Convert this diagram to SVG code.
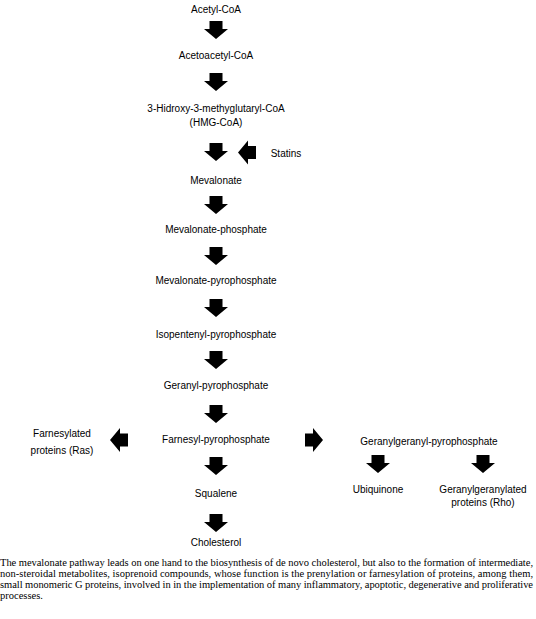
<svg xmlns="http://www.w3.org/2000/svg" width="536" height="619" viewBox="0 0 536 619">
<style>
.n{font-family:"Liberation Sans",Arial,sans-serif;font-size:10px;fill:#000;text-anchor:middle}
.cap{font-family:"Liberation Serif","Times New Roman",serif;font-size:10.5px;fill:#000}
.a{fill:#000}
</style>
<defs>
<path id="arr" d="M-6.5,0 H6.5 V8 H12 L0,18 L-12,8 H-6.5 Z"/>
</defs>
<rect width="536" height="619" fill="#fff"/>
<g id="connectors" class="a">
<use href="#arr" x="216" y="21"/>
<use href="#arr" x="216" y="73"/>
<use href="#arr" x="216" y="143"/>
<use href="#arr" x="216" y="196"/>
<use href="#arr" x="216" y="247"/>
<use href="#arr" x="216" y="299"/>
<use href="#arr" x="216" y="351"/>
<use href="#arr" x="216" y="405"/>
<use href="#arr" x="216" y="457"/>
<use href="#arr" x="216" y="514"/>
<use href="#arr" transform="translate(256,152.5) rotate(90)"/>
<use href="#arr" transform="translate(128,440) rotate(90)"/>
<use href="#arr" transform="translate(305,440) rotate(-90)"/>
<use href="#arr" x="378" y="455"/>
<use href="#arr" x="483" y="455"/>
</g>
<g id="acetylcoa"><text class="n" x="216" y="13">Acetyl-CoA</text></g>
<g id="acetoacetylcoa"><text class="n" x="216" y="59">Acetoacetyl-CoA</text></g>
<g id="hmgcoa"><text class="n" x="216" y="112">3-Hidroxy-3-methyglutaryl-CoA</text><text class="n" x="216" y="126">(HMG-CoA)</text></g>
<g id="statins"><text class="n" x="286" y="157">Statins</text></g>
<g id="mevalonate"><text class="n" x="216" y="184">Mevalonate</text></g>
<g id="mevalonatephosphate"><text class="n" x="216" y="233">Mevalonate-phosphate</text></g>
<g id="mevalonatepyrophosphate"><text class="n" x="216" y="284">Mevalonate-pyrophosphate</text></g>
<g id="isopentenyl"><text class="n" x="216" y="338">Isopentenyl-pyrophosphate</text></g>
<g id="geranyl"><text class="n" x="216" y="389">Geranyl-pyrophosphate</text></g>
<g id="farnesyl"><text class="n" x="216" y="443">Farnesyl-pyrophosphate</text></g>
<g id="farnesylated"><text class="n" x="62" y="437">Farnesylated</text><text class="n" x="62" y="454">proteins (Ras)</text></g>
<g id="geranylgeranyl"><text class="n" x="429" y="445">Geranylgeranyl-pyrophosphate</text></g>
<g id="ubiquinone"><text class="n" x="378" y="493">Ubiquinone</text></g>
<g id="geranylgeranylated"><text class="n" x="483" y="493">Geranylgeranylated</text><text class="n" x="483" y="506">proteins (Rho)</text></g>
<g id="squalene"><text class="n" x="216" y="497">Squalene</text></g>
<g id="cholesterol"><text class="n" x="216" y="546">Cholesterol</text></g>
<g id="caption">
<text class="cap" x="0" y="566" textLength="533" lengthAdjust="spacing">The mevalonate pathway leads on one hand to the biosynthesis of de novo cholesterol, but also to the formation of intermediate,</text>
<text class="cap" x="0" y="577" textLength="533" lengthAdjust="spacing">non-steroidal metabolites, isoprenoid compounds, whose function is the prenylation or farnesylation of proteins, among them,</text>
<text class="cap" x="0" y="588" textLength="533" lengthAdjust="spacing">small monomeric G proteins, involved in in the implementation of many inflammatory, apoptotic, degenerative and proliferative</text>
<text class="cap" x="0" y="599">processes.</text>
</g>
</svg>
